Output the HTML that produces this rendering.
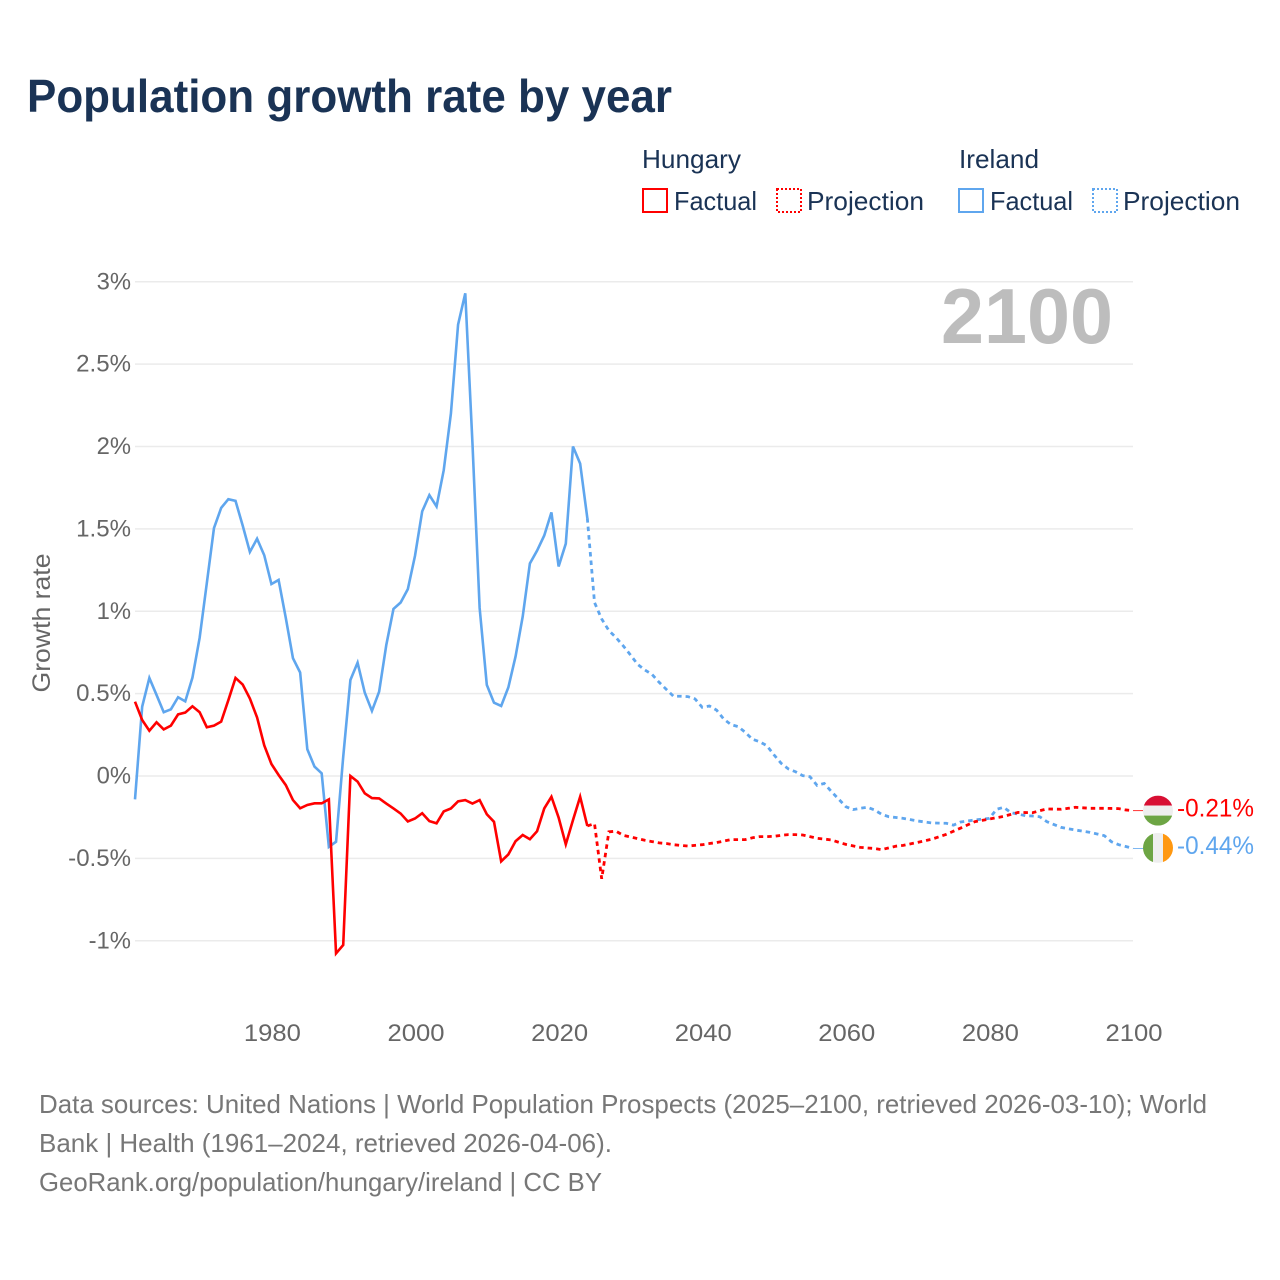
<!DOCTYPE html>
<html lang="en">
<head>
<meta charset="utf-8">
<title>Population growth rate by year</title>
<style>
html,body{margin:0;padding:0;background:#fff;width:1280px;height:1280px;overflow:hidden}
svg{display:block}
text{font-family:"Liberation Sans",sans-serif}
</style>
</head>
<body>
<svg id="chart" width="1280" height="1280" viewBox="0 0 1280 1280">
  <text x="27" y="112" font-size="46" font-weight="700" fill="#1a3355" textLength="645" lengthAdjust="spacingAndGlyphs">Population growth rate by year</text>

  <g>
    <text x="642" y="168" font-size="26" fill="#1a3355" textLength="99" lengthAdjust="spacingAndGlyphs">Hungary</text>
    <text x="959" y="168" font-size="26" fill="#1a3355" textLength="80" lengthAdjust="spacingAndGlyphs">Ireland</text>
    <rect x="643" y="189" width="24" height="23" fill="none" stroke="#ff0000" stroke-width="2"/>
    <text x="674" y="210" font-size="26" fill="#1a3355" textLength="83" lengthAdjust="spacingAndGlyphs">Factual</text>
    <rect x="777" y="189" width="24" height="23" fill="none" stroke="#ff0000" stroke-width="2" stroke-dasharray="2 2"/>
    <text x="807" y="210" font-size="26" fill="#1a3355" textLength="117" lengthAdjust="spacingAndGlyphs">Projection</text>
    <rect x="959" y="189" width="24" height="23" fill="none" stroke="#5fa6ee" stroke-width="2"/>
    <text x="990" y="210" font-size="26" fill="#1a3355" textLength="83" lengthAdjust="spacingAndGlyphs">Factual</text>
    <rect x="1093" y="189" width="24" height="23" fill="none" stroke="#5fa6ee" stroke-width="2" stroke-dasharray="2 2"/>
    <text x="1123" y="210" font-size="26" fill="#1a3355" textLength="117" lengthAdjust="spacingAndGlyphs">Projection</text>
  </g>

  <g id="grid"></g>
  <g id="yticks"></g>
  <g id="xticks"></g>

  <text transform="translate(50,623) rotate(-90)" text-anchor="middle" font-size="25" fill="#666666" textLength="139" lengthAdjust="spacingAndGlyphs">Growth rate</text>
  <text x="941" y="343" font-size="78" font-weight="700" fill="#bdbdbd" textLength="172" lengthAdjust="spacingAndGlyphs">2100</text>

  <g id="series"></g>

  <defs>
    <clipPath id="flag-clip-hu"><circle id="hu-clip-circle" cx="1158" cy="810" r="15"/></clipPath>
    <clipPath id="flag-clip-ie"><circle id="ie-clip-circle" cx="1158" cy="848" r="15"/></clipPath>
  </defs>
  <g id="flag-hu" clip-path="url(#flag-clip-hu)"></g>
  <g id="flag-ie" clip-path="url(#flag-clip-ie)"></g>
  <text id="end-hu" x="1177" font-size="25" fill="#ff0000" textLength="77" lengthAdjust="spacingAndGlyphs"></text>
  <text id="end-ie" x="1177" font-size="25" fill="#5fa6ee" textLength="77" lengthAdjust="spacingAndGlyphs"></text>

  <g>
    <text x="39" y="1113" font-size="26" fill="#777777" textLength="1168" lengthAdjust="spacingAndGlyphs">Data sources: United Nations | World Population Prospects (2025–2100, retrieved 2026-03-10); World</text>
    <text x="39" y="1152" font-size="26" fill="#777777" textLength="573" lengthAdjust="spacingAndGlyphs">Bank | Health (1961–2024, retrieved 2026-04-06).</text>
    <text x="39" y="1191" font-size="26" fill="#777777" textLength="563" lengthAdjust="spacingAndGlyphs">GeoRank.org/population/hungary/ireland | CC BY</text>
  </g>
</svg>
<script>
const yTickValues = [3, 2.5, 2, 1.5, 1, 0.5, 0, -0.5, -1];
const xTickYears = [1980, 2000, 2020, 2040, 2060, 2080, 2100];
const factualStartYear = 1961;
const projectionStartYear = 2025;

const hungaryFactual = [
  0.451,0.34,0.275,0.326,0.283,0.306,0.374,0.385,0.423,0.387,
  0.296,0.306,0.33,0.46,0.595,0.555,0.47,0.356,0.186,0.073,
  0.006,-0.055,-0.146,-0.196,-0.176,-0.166,-0.166,-0.142,-1.077,-1.026,
  0,-0.034,-0.105,-0.134,-0.136,-0.167,-0.197,-0.228,-0.276,-0.258,
  -0.226,-0.274,-0.287,-0.215,-0.197,-0.154,-0.146,-0.167,-0.146,-0.232,
  -0.278,-0.518,-0.476,-0.396,-0.358,-0.384,-0.335,-0.197,-0.126,-0.252,
  -0.415,-0.268,-0.126,-0.303
];
const hungaryProjection = [
  -0.289,-0.624,-0.339,-0.335,-0.36,-0.37,-0.38,-0.39,-0.398,-0.406,
  -0.41,-0.417,-0.421,-0.425,-0.421,-0.417,-0.41,-0.404,-0.395,-0.386,
  -0.386,-0.386,-0.375,-0.368,-0.368,-0.366,-0.36,-0.356,-0.356,-0.358,
  -0.368,-0.378,-0.383,-0.388,-0.402,-0.415,-0.424,-0.433,-0.437,-0.44,
  -0.447,-0.436,-0.426,-0.421,-0.412,-0.403,-0.393,-0.383,-0.369,-0.354,
  -0.335,-0.316,-0.296,-0.277,-0.269,-0.261,-0.253,-0.245,-0.233,-0.221,
  -0.222,-0.223,-0.211,-0.2,-0.201,-0.202,-0.196,-0.19,-0.193,-0.196,
  -0.196,-0.196,-0.197,-0.198,-0.206,-0.21
];
const irelandFactual = [
  -0.142,0.421,0.595,0.492,0.387,0.405,0.478,0.453,0.597,0.838,
  1.17,1.505,1.627,1.68,1.67,1.52,1.36,1.44,1.34,1.165,
  1.19,0.96,0.715,0.628,0.162,0.057,0.016,-0.43,-0.399,0.117,
  0.583,0.688,0.506,0.395,0.512,0.795,1.014,1.053,1.134,1.337,
  1.606,1.705,1.636,1.856,2.2,2.74,2.93,2.02,1.02,0.553,
  0.445,0.425,0.538,0.725,0.968,1.29,1.368,1.46,1.6,1.272,
  1.41,2.0,1.896,1.565
];
const irelandProjection = [
  1.053,0.953,0.883,0.84,0.79,0.735,0.678,0.644,0.617,0.569,
  0.526,0.484,0.484,0.482,0.468,0.417,0.425,0.4,0.346,0.312,
  0.3,0.265,0.223,0.208,0.184,0.128,0.077,0.043,0.026,0.002,
  -0.004,-0.057,-0.045,-0.095,-0.14,-0.186,-0.204,-0.196,-0.19,-0.206,
  -0.233,-0.247,-0.252,-0.257,-0.265,-0.273,-0.279,-0.285,-0.286,-0.287,
  -0.298,-0.279,-0.273,-0.267,-0.262,-0.257,-0.202,-0.19,-0.223,-0.231,
  -0.241,-0.243,-0.247,-0.277,-0.295,-0.312,-0.32,-0.328,-0.335,-0.342,
  -0.352,-0.362,-0.399,-0.417,-0.428,-0.44
];

const NS = 'http://www.w3.org/2000/svg';
const plotLeft = 135, plotRight = 1133;
function xScale(year) { return plotLeft + (year - 1961) * (plotRight - plotLeft) / (2100 - 1961); }
function yScale(v) { return 776 - v * 164.75; }
function charWidth(c) { return c === '%' ? 20 : c === '.' ? 6 : c === '-' ? 8 : 14.4; }
function labelWidth(s) { let w = 0; for (const c of s) w += charWidth(c); return w; }
function make(tag, attrs, parent) {
  const el = document.createElementNS(NS, tag);
  for (const k in attrs) el.setAttribute(k, attrs[k]);
  parent.appendChild(el);
  return el;
}
function linePath(points) {
  return points.map((p, i) => (i ? 'L' : 'M') + xScale(p[0]).toFixed(2) + ' ' + yScale(p[1]).toFixed(2)).join('');
}
function toPoints(values, startYear) { return values.map((v, i) => [startYear + i, v]); }

const grid = document.getElementById('grid');
const yticks = document.getElementById('yticks');
const xticks = document.getElementById('xticks');
yTickValues.forEach(v => {
  const gl = make('line', {x1: plotLeft, x2: plotRight, y1: yScale(v), y2: yScale(v), stroke: '#ebebeb', 'stroke-width': 1.4}, grid);
  
  
  const s = v + '%';
  const t = make('text', {x: 131, y: yScale(v) + 7.5, 'text-anchor': 'end', 'font-size': 24, fill: '#666666', textLength: labelWidth(s), lengthAdjust: 'spacingAndGlyphs'}, yticks);
  
  
  t.textContent = s;
});
xTickYears.forEach(y => {
  const s = String(y);
  const t = make('text', {x: xScale(y) + 1, y: 1041, 'text-anchor': 'middle', 'font-size': 24, fill: '#666666', textLength: 57, lengthAdjust: 'spacingAndGlyphs'}, xticks);
  
  
  t.textContent = s;
});

const seriesGroup = document.getElementById('series');
function drawSeries(factual, projection, color, key) {
  const f = toPoints(factual, factualStartYear);
  const p = toPoints(projection, projectionStartYear);
  const fl = make('path', {d: linePath(f), fill: 'none', stroke: color, 'stroke-width': 2.6, 'stroke-linejoin': 'miter'}, seriesGroup);
  
  
  const pl = make('path', {d: linePath([f[f.length - 1]].concat(p)), fill: 'none', stroke: color, 'stroke-width': 2.8, 'stroke-dasharray': '4.5 4'}, seriesGroup);
  
  
  const lastV = projection[projection.length - 1];
  const c = make('line', {x1: plotRight, x2: 1144, y1: yScale(lastV), y2: yScale(lastV), stroke: color, 'stroke-width': 1, opacity: 0.8}, seriesGroup);
  
  
  return lastV;
}
const ieLast = drawSeries(irelandFactual, irelandProjection, '#5fa6ee', 'ireland');
const huLast = drawSeries(hungaryFactual, hungaryProjection, '#ff0000', 'hungary');

const huY = yScale(huLast), ieY = yScale(ieLast) - 0.6;
document.getElementById('hu-clip-circle').setAttribute('cy', huY);
document.getElementById('ie-clip-circle').setAttribute('cy', ieY);
const fh = document.getElementById('flag-hu');
make('rect', {x: 1143, y: huY - 15, width: 30, height: 10, fill: '#d80f33'}, fh);
make('rect', {x: 1143, y: huY - 5, width: 30, height: 10, fill: '#eeeeee'}, fh);
make('rect', {x: 1143, y: huY + 5, width: 30, height: 10, fill: '#6da544'}, fh);
const fi = document.getElementById('flag-ie');
make('rect', {x: 1143, y: ieY - 15, width: 10, height: 30, fill: '#6da544'}, fi);
make('rect', {x: 1153, y: ieY - 15, width: 10, height: 30, fill: '#eeeeee'}, fi);
make('rect', {x: 1163, y: ieY - 15, width: 10, height: 30, fill: '#ff9811'}, fi);
const endHu = document.getElementById('end-hu');
endHu.setAttribute('y', huY + 6);
endHu.textContent = huLast.toFixed(2) + '%';
const endIe = document.getElementById('end-ie');
endIe.setAttribute('y', ieY + 6);
endIe.textContent = ieLast.toFixed(2) + '%';
</script>
</body>
</html>
